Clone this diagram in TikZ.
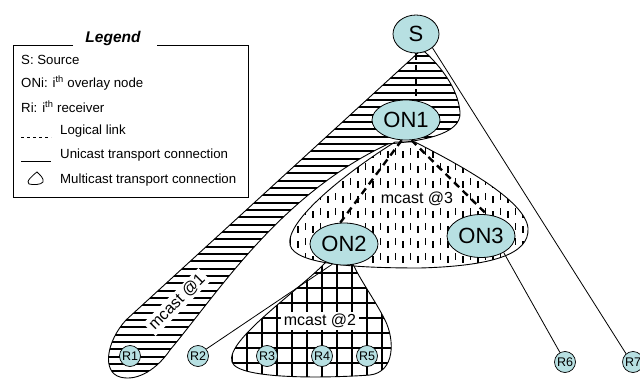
\documentclass[tikz,border=0pt]{standalone}
\usepackage{fontspec}
\setmainfont{Liberation Sans}
\usetikzlibrary{shapes.geometric}
\definecolor{nodefill}{RGB}{183,224,226}

\begin{document}
\begin{tikzpicture}[x=1pt,y=-1pt,
  ovl/.style={ellipse,draw,fill=nodefill,inner sep=0pt,line width=0.8pt,
    font=\fontsize{22}{24}\selectfont},
  rcv/.style={circle,draw,fill=nodefill,minimum size=21pt,inner sep=0pt,
    line width=0.7pt,font=\fontsize{12.5}{13}\selectfont},
  logical/.style={line width=2.4pt,dash pattern=on 7pt off 5pt},
  unicast/.style={line width=0.8pt},
  outline/.style={line width=0.9pt},
  hatch/.style={line width=2pt},
  lgd/.style={anchor=west,inner sep=0pt,font=\fontsize{13.25}{15}\selectfont},
  mlabel/.style={fill=white,inner xsep=3pt,inner ysep=2pt,
    font=\fontsize{16}{18}\selectfont}
]
\useasboundingbox (0,0) rectangle (640,380);

% ---------- multicast groups (hatched regions) ----------
% group 1: from S down to R1, horizontal lines
\path[save path=\regA] (419,52) -- (126,320)
  .. controls (106,342) and (102,372) .. (120,377)
  .. controls (138,382) and (158,368) .. (170,350)
  .. controls (220,290) and (280,195) .. (388,144)
  .. controls (420,141) and (462,135) .. (460,112)
  .. controls (458,88) and (440,66) .. (425,52) -- cycle;
\begin{scope}
  \path[clip,use path=\regA];
  \foreach \k [evaluate=\k as \yy using 48.7+7.33*\k] in {0,...,46}
    \draw[hatch] (90,\yy) -- (480,\yy);
\end{scope}
\draw[outline,use path=\regA];

% group 3: from ON1 to ON2 and ON3, vertical dashes
\path[save path=\regC] (395,142) .. controls (350,170) and (285,220) .. (290,245)
  .. controls (295,265) and (360,268) .. (420,268)
  .. controls (490,266) and (530,255) .. (528,228)
  .. controls (525,200) and (460,165) .. (415,142) -- cycle;
\begin{scope}
  \path[clip,use path=\regC];
  \foreach \i [evaluate=\i as \xx using 283+7.5*\i,
               evaluate=\i as \ph using {3*mod(\i,2)}] in {0,...,34}
    \draw[line width=1.6pt,dash pattern=on 6.5pt off 8.5pt,dash phase=\ph pt]
      (\xx,136) -- (\xx,280);
\end{scope}
\draw[outline,use path=\regC];

% group 2: from ON2 to R3, R4, R5, grid
\path[save path=\regB] (328,260) .. controls (300,290) and (225,340) .. (232,362)
  .. controls (238,380) and (330,378) .. (370,375)
  .. controls (395,372) and (395,340) .. (385,320)
  .. controls (375,300) and (360,280) .. (352,262) -- cycle;
\begin{scope}
  \path[clip,use path=\regB];
  \foreach \k [evaluate=\k as \xx using 216.7+15*\k] in {0,...,13}
    \draw[hatch] (\xx,250) -- (\xx,385);
  \foreach \k [evaluate=\k as \yy using 258.3+15*\k] in {0,...,8}
    \draw[hatch] (220,\yy) -- (400,\yy);
\end{scope}
\draw[outline,use path=\regB];

% group labels
\node[mlabel,rotate=45] (m1) at (177,302) {mcast @1};
\node[mlabel] (m2) at (320,321) {mcast @2};
\node[mlabel] (m3) at (417,199) {mcast @3};

% ---------- nodes ----------
\node[ovl,minimum width=46pt,minimum height=38pt] (S) at (416,34) {S};
\node[ovl,minimum width=68pt,minimum height=40pt] (ON1) at (406,120) {ON1};
\node[ovl,minimum width=68pt,minimum height=42pt] (ON2) at (344,244) {ON2};
\node[ovl,minimum width=68pt,minimum height=43pt] (ON3) at (481,236) {ON3};

\node[rcv] (R1) at (130,356) {R1};
\node[rcv] (R2) at (198,356) {R2};
\node[rcv] (R3) at (267,356) {R3};
\node[rcv] (R4) at (322,356) {R4};
\node[rcv] (R5) at (367,356) {R5};
\node[rcv] (R6) at (565,362) {R6};
\node[rcv] (R7) at (633,362) {R7};

% ---------- logical links ----------
\draw[logical] (S.south) -- (S.south |- ON1.north);
\draw[logical] (ON1.258) -- (ON2.100);
\draw[logical] (ON1.-75) -- (ON3.75);

% ---------- unicast connections ----------
\draw[unicast] (S.-40) -- (R7.130);
\draw[unicast] (ON3.-36) -- (R6.118);
\draw[unicast] (ON2.240) -- (R2.40);

% ---------- legend ----------
\draw[line width=0.8pt] (73,45) -- (13,45) -- (13,197) -- (248,197) -- (248,45) -- (157,45);
\node[font=\fontsize{15.5}{17}\selectfont\bfseries\itshape] (lgt) at (113,38) {Legend};
\node[lgd] (l1) at (21,60) {S: Source};
\node[lgd] (l2) at (21,83) {ONi: i\textsuperscript{th} overlay node};
\node[lgd] (l3) at (21,107) {Ri: i\textsuperscript{th} receiver};
\node[lgd] (l4) at (60,131) {Logical link};
\node[lgd] (l5) at (60,155) {Unicast transport connection};
\node[lgd] (l6) at (60,180) {Multicast transport connection};
\coordinate (d1) at (21,137);
\coordinate (d2) at (51,137);
\draw[line width=0.7pt,dash pattern=on 3pt off 3pt] (d1) -- (d2);
\coordinate (u1) at (21,161);
\coordinate (u2) at (51,161);
\draw[line width=0.8pt] (u1) -- (u2);
\draw[line width=0.8pt] (37,172) .. controls (33,175) and (25,182) .. (29,184)
  .. controls (33,185) and (41,185) .. (43,182)
  .. controls (44,178) and (40,175) .. (37,172) -- cycle;
\end{tikzpicture}
\end{document}
